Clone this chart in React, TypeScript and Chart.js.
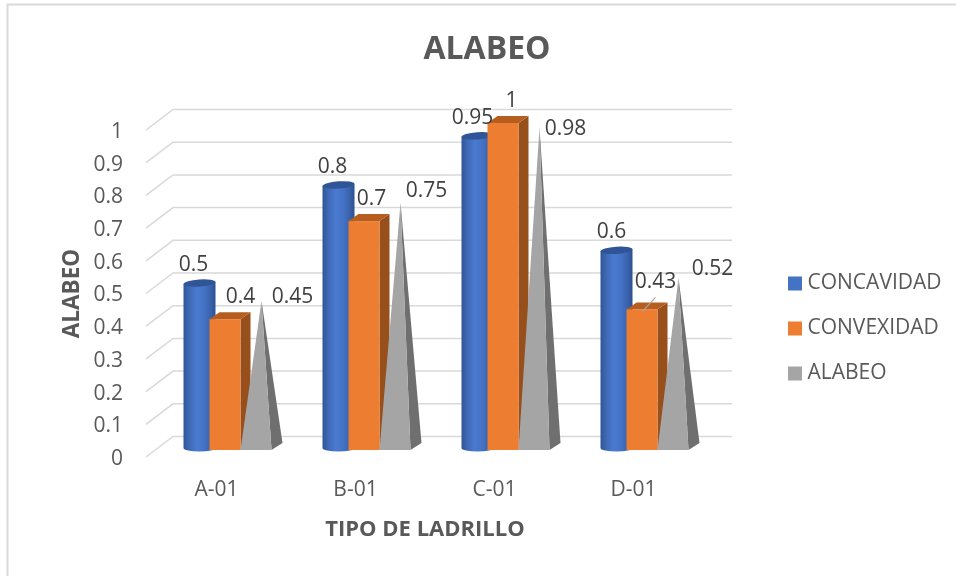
import React, { useEffect, useRef } from "react";
import { Chart, registerables } from "chart.js";

Chart.register(...registerables);

const categories = ["A-01", "B-01", "C-01", "D-01"];
const concavidad = [0.5, 0.8, 0.95, 0.6];
const convexidad = [0.4, 0.7, 1, 0.43];
const alabeo = [0.45, 0.75, 0.98, 0.52];

const FONT = "'Open Sans', sans-serif";
const TEXT = "#595959";
const GRID = "#D9D9D9";

// label offsets from each bar's top, [dx, dy] per category
const labelNudge = [
  [[8, -28.5], [8, -28.4], [9, -28], [9, -29]],
  [[24, -29], [16, -29], [17, -29], [22, -34]],
  [[45, -13], [40, -20.7], [40, -7.5], [48, -18]],
];

const depthPlugin = {
  id: "depth",
  afterLayout(chart: any) {
    const t = chart.titleBlock;
    if (t) {
      t.left = 0;
      t.right = 974;
    }
    const l = chart.legend;
    if (l) {
      l.left = 769;
      l.right = l.left + l.width;
      l.top = 249;
      l.bottom = l.top + l.height;
    }
  },
  beforeDraw(chart: any) {
    const { ctx } = chart;
    ctx.save();
    ctx.fillStyle = "#fff";
    ctx.fillRect(0, 0, chart.width, chart.height);
    ctx.strokeStyle = GRID;
    ctx.lineWidth = 2;
    ctx.beginPath();
    ctx.moveTo(7.5, chart.height);
    ctx.lineTo(7.5, 4.5);
    ctx.lineTo(chart.width, 4.5);
    ctx.stroke();
    ctx.restore();
  },
  beforeDatasetsDraw(chart: any) {
    const { ctx, chartArea } = chart;
    const y = chart.scales.y;
    ctx.save();
    // walls: a slanted stub on the side, a long line along the back
    ctx.strokeStyle = GRID;
    ctx.lineWidth = 1.5;
    y.ticks.forEach((_: any, i: number) => {
      const py = y.getPixelForTick(i);
      ctx.beginPath();
      ctx.moveTo(chartArea.left - 1, py);
      ctx.lineTo(chartArea.left + 26, py - 20.5);
      ctx.lineTo(chartArea.right + 29, py - 20.5);
      ctx.stroke();
    });
    const dx = 10;
    const dy = 7;
    const blue = chart.getDatasetMeta(0).data;
    const orange = chart.getDatasetMeta(1).data;
    const gray = chart.getDatasetMeta(2).data;
    blue.forEach((el: any) => {
      const cx = el.x + 14;
      const rx = 16;
      const ry = 3.6;
      const top = el.y - 10.5;
      const base = el.base - 9;
      const g = ctx.createLinearGradient(cx - rx, 0, cx + rx, 0);
      g.addColorStop(0, "#2F5597");
      g.addColorStop(0.18, "#3E69B5");
      g.addColorStop(0.42, "#4A7AD0");
      g.addColorStop(0.65, "#4472C4");
      g.addColorStop(0.85, "#3A62AC");
      g.addColorStop(1, "#2C5190");
      ctx.fillStyle = g;
      ctx.beginPath();
      ctx.ellipse(cx, base, rx, ry, 0, 0, Math.PI);
      ctx.lineTo(cx - rx, top + 1);
      ctx.lineTo(cx + rx, top - 1);
      ctx.closePath();
      ctx.fill();
      ctx.fillStyle = "#2F5597";
      ctx.beginPath();
      ctx.ellipse(cx, top, rx, ry, -0.07, 0, Math.PI * 2);
      ctx.fill();
    });
    orange.forEach((el: any) => {
      const w = el.width;
      const x0 = el.x + 8.5 - w / 2;
      const x1 = x0 + w;
      const top = el.y - 7;
      const base = el.base - 7;
      ctx.fillStyle = "#974F1B";
      ctx.beginPath();
      ctx.moveTo(x1, top);
      ctx.lineTo(x1 + dx, top - dy);
      ctx.lineTo(x1 + dx, base - dy);
      ctx.lineTo(x1, base);
      ctx.closePath();
      ctx.fill();
      ctx.fillStyle = "#B65E20";
      ctx.beginPath();
      ctx.moveTo(x0, top);
      ctx.lineTo(x0 + dx, top - dy);
      ctx.lineTo(x1 + dx, top - dy);
      ctx.lineTo(x1, top);
      ctx.closePath();
      ctx.fill();
      ctx.fillStyle = "#ED7D31";
      ctx.fillRect(x0, top, w, base - top);
    });
    gray.forEach((el: any) => {
      const w = el.width;
      const x0 = el.x + 8.5 - w / 2;
      const x1 = x0 + w;
      const base = el.base - 7;
      const ax = el.x + 8.5 + 5.5;
      const ay = el.y - 9;
      ctx.fillStyle = "#6F6F6F";
      ctx.beginPath();
      ctx.moveTo(x1, base);
      ctx.lineTo(x1 + dx + 1, base - dy);
      ctx.lineTo(ax, ay);
      ctx.closePath();
      ctx.fill();
      ctx.fillStyle = "#A5A5A5";
      ctx.beginPath();
      ctx.moveTo(x0, base);
      ctx.lineTo(x1, base);
      ctx.lineTo(ax, ay);
      ctx.closePath();
      ctx.fill();
    });
    ctx.restore();
  },
  beforeDatasetDraw() {
    return false;
  },
  afterDatasetsDraw(chart: any) {
    const { ctx } = chart;
    ctx.save();
    ctx.font = `21px ${FONT}`;
    ctx.fillStyle = "#404040";
    ctx.textAlign = "center";
    ctx.textBaseline = "middle";
    chart.data.datasets.forEach((ds: any, s: number) => {
      chart.getDatasetMeta(s).data.forEach((el: any, i: number) => {
        const [nx, ny] = labelNudge[s][i];
        ctx.fillText(String(ds.data[i]), el.x + nx, el.y + ny);
      });
    });
    // leader line of the one label that was dragged away from its bar
    const el = chart.getDatasetMeta(1).data[3];
    ctx.strokeStyle = "#A6A6A6";
    ctx.lineWidth = 1.2;
    ctx.beginPath();
    ctx.moveTo(el.x + 22, el.y - 19);
    ctx.lineTo(el.x + 9, el.y - 5);
    ctx.stroke();
    ctx.restore();
  },
};

export default function App() {
  const ref = useRef<HTMLCanvasElement | null>(null);
  useEffect(() => {
    const chart = new Chart(ref.current as HTMLCanvasElement, {
      type: "bar",
      plugins: [depthPlugin as any],
      data: {
        labels: categories,
        datasets: [
          { label: "CONCAVIDAD", data: concavidad, backgroundColor: "#4472C4" },
          { label: "CONVEXIDAD", data: convexidad, backgroundColor: "#ED7D31" },
          { label: "ALABEO", data: alabeo, backgroundColor: "#A5A5A5" },
        ],
      },
      options: {
        responsive: false,
        animation: false,
        devicePixelRatio: 1,
        layout: { padding: { left: 59, right: 253, top: 0, bottom: 0 } },
        datasets: { bar: { categoryPercentage: 93 / 139, barPercentage: 1 } },
        plugins: {
          title: {
            display: true,
            text: "ALABEO",
            color: TEXT,
            font: { family: FONT, size: 32, weight: "bold" },
            padding: { top: 31, bottom: 60.6 },
          },
          legend: {
            position: "chartArea" as any,
            align: "start",
            labels: {
              color: TEXT,
              font: { family: FONT, size: 21 },
              boxWidth: 4,
              boxHeight: 4,
              padding: 24,
              generateLabels(c: any) {
                return Chart.defaults.plugins.legend.labels
                  .generateLabels(c)
                  .map((it: any) => ({ ...it, lineWidth: 10, strokeStyle: it.fillStyle }));
              },
            },
          },
          tooltip: { enabled: false },
        },
        scales: {
          x: {
            grid: { display: false },
            border: { display: false },
            afterFit(s: any) {
              s.height = 119;
            },
            ticks: {
              color: TEXT,
              font: { family: FONT, size: 21 },
              padding: 12,
            },
            title: {
              display: true,
              text: "TIPO DE LADRILLO",
              color: TEXT,
              font: { family: FONT, size: 22, weight: "bold" },
              padding: { top: 0, bottom: 33 },
            },
          },
          y: {
            min: 0,
            max: 1,
            grid: { display: false, drawTicks: false },
            border: { display: false },
            afterFit(s: any) {
              s.width = 88;
            },
            ticks: {
              stepSize: 0.1,
              color: TEXT,
              font: { family: FONT, size: 21 },
              padding: 24,
              labelOffset: 2,
              callback: (v: any) => String(Number(Number(v).toFixed(1))),
            },
            title: {
              display: true,
              text: "ALABEO",
              color: TEXT,
              font: { family: FONT, size: 22.5, weight: "bold" },
              padding: 0,
            },
          },
        },
      },
    });
    return () => chart.destroy();
  }, []);
  return (
    <div style={{ position: "fixed", left: 0, top: 0 }}>
      <canvas ref={ref} width={956} height={576} style={{ display: "block" }} />
    </div>
  );
}
